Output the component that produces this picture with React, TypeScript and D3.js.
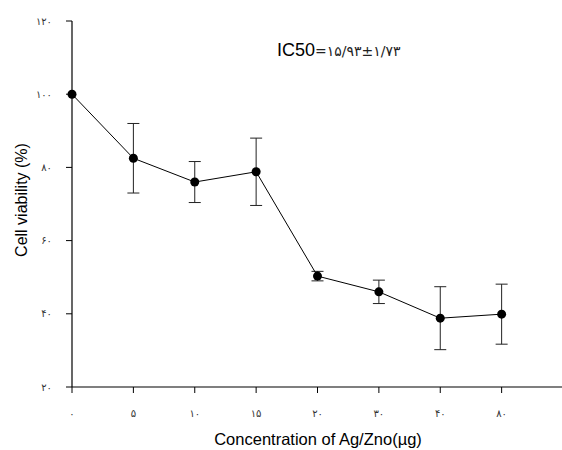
import React from 'react'
import * as d3 from 'd3'

const categories = ['۰', '۵', '۱۰', '۱۵', '۲۰', '۳۰', '۴۰', '۸۰']
const viability = [100, 82.5, 76.0, 78.8, 50.3, 46.0, 38.8, 39.9]
const errors = [0, 9.5, 5.6, 9.2, 1.3, 3.2, 8.6, 8.2]
const yTicks = [20, 40, 60, 80, 100, 120]
const faDigits = '۰۱۲۳۴۵۶۷۸۹'
const toFa = (n: number) => String(n).replace(/\d/g, d => faDigits[+d])

const W = 562
const H = 450

function App() {
    const x = d3.scaleLinear().domain([0, 8]).range([72, 563])
    const y = d3.scaleLinear().domain([20, 120]).range([387, 21])
    const lineGen = d3.line<number>()
        .x((d, i) => x(i))
        .y(d => y(d))
    const font = 'Arial, "Liberation Sans", "DejaVu Sans", sans-serif'
    const faFont = '"DejaVu Sans", sans-serif'

    return (
        <svg width={W} height={H} style={{ position: 'absolute', left: 0, top: 0, background: '#fff' }}
            fontFamily={font}>
            <rect width={W} height={H} fill="#fff" />
            {/* axes */}
            <line x1={x(0)} x2={x(0)} y1={y(120)} y2={y(20)} stroke="#000" strokeWidth={1.2} />
            <line x1={x(0)} x2={x(8)} y1={y(20)} y2={y(20)} stroke="#000" strokeWidth={1.2} />
            {yTicks.map(t => (
                <g key={t}>
                    <line x1={x(0) - 6} x2={x(0)} y1={y(t)} y2={y(t)} stroke="#000" />
                    <text x={52} y={y(t)} dy="0.35em" fontSize={10} textAnchor="end"
                        fill="#333" fontFamily={faFont}>{toFa(t)}</text>
                </g>
            ))}
            {categories.map((c, i) => (
                <g key={i}>
                    <line x1={x(i)} x2={x(i)} y1={y(20)} y2={y(20) + 6} stroke="#000" />
                    <text x={x(i)} y={413} dy="0.35em" fontSize={10} textAnchor="middle"
                        fill="#333" fontFamily={faFont}>{c}</text>
                </g>
            ))}
            {/* error bars */}
            {viability.map((v, i) => errors[i] > 0 && (
                <g key={i} stroke="#222" strokeWidth={1}>
                    <line x1={x(i)} x2={x(i)} y1={y(v + errors[i])} y2={y(v - errors[i])} />
                    <line x1={x(i) - 6} x2={x(i) + 6} y1={y(v + errors[i])} y2={y(v + errors[i])} />
                    <line x1={x(i) - 6} x2={x(i) + 6} y1={y(v - errors[i])} y2={y(v - errors[i])} />
                </g>
            ))}
            <path d={lineGen(viability) || ''} fill="none" stroke="#000" strokeWidth={1} />
            {viability.map((v, i) => (
                <circle key={i} cx={x(i)} cy={y(v)} r={4.5} fill="#000" />
            ))}
            {/* labels */}
            <text transform="translate(27,200) rotate(-90)" textAnchor="middle" fontSize={16}>
                Cell viability (%)
            </text>
            <text x={318} y={445} textAnchor="middle" fontSize={16.5}>Concentration of Ag/Zno(µg)</text>
            <text x={277} y={56} fontSize={18} direction="ltr">
                IC50
                <tspan fontSize={14} fill="#222" fontFamily={faFont}>=۱۵/۹۳±۱/۷۳</tspan>
            </text>
        </svg>
    )
}

export default App
